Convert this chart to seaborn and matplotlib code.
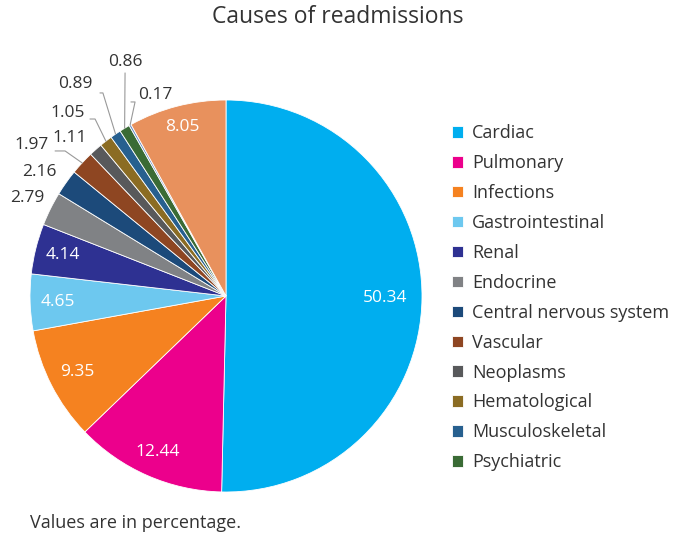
import numpy as np
import matplotlib
matplotlib.use("Agg")
import matplotlib.pyplot as plt
import seaborn as sns

# data (percent), clockwise from 12 o'clock
causes = ["Cardiac", "Pulmonary", "Infections", "Gastrointestinal", "Renal",
          "Endocrine", "Central nervous system", "Vascular", "Neoplasms",
          "Hematological", "Musculoskeletal", "Psychiatric", "", ""]
values = [50.34, 12.44, 9.35, 4.65, 4.14, 2.79, 2.16, 1.97, 1.11, 1.05,
          0.89, 0.86, 0.17, 8.05]
colors = ["#00AEEF", "#EC008C", "#F58220", "#6DC8EF", "#2E3192", "#808285",
          "#1C4A7A", "#8E4622", "#58595B", "#8B6C23", "#27608F", "#3A6B35",
          "#6A8FC8", "#E8915D"]
n_legend = 12

# label placement: inside (white) or outside (dark, some with leader line)
inside_r = {0: 0.81, 1: 0.87, 2: 0.85, 3: 0.86, 4: 0.86, 13: 0.89}
outside_pos = {5: (-1.015, 0.50), 6: (-0.95, 0.633), 7: (-0.99, 0.77),
               8: (-0.80, 0.806), 9: (-0.81, 0.934), 10: (-0.77, 1.082),
               11: (-0.515, 1.194), 12: (-0.36, 1.026)}
# leader line: start next to label, then kink, then to wedge edge
leader = {7: [(-0.872, 0.740), (-0.821, 0.740)],
          9: [(-0.694, 0.903), (-0.668, 0.903)],
          10: [(-0.643, 1.036), (-0.628, 1.036)],
          11: [(-0.515, 1.138), (-0.515, 1.138)],
          12: [(-0.485, 0.990), (-0.464, 0.990)]}

sns.set_theme(style="white")
plt.rcParams["font.family"] = ["Open Sans", "DejaVu Sans"]

W, H = 684, 538
fig = plt.figure(figsize=(W / 100, H / 100), dpi=100)
ax = fig.add_axes([30 / W, 46 / H, 392 / W, 392 / H])

wedges, _ = ax.pie(values, colors=colors, startangle=90, counterclock=False,
                   radius=1.0, wedgeprops=dict(linewidth=0.6, edgecolor="white"))
ax.set_xlim(-1, 1)
ax.set_ylim(-1, 1)
ax.set_aspect("equal")
ax.axis("off")

for i, w in enumerate(wedges):
    mid = np.deg2rad((w.theta1 + w.theta2) / 2)
    txt = f"{values[i]:.2f}"
    if i in inside_r:
        r = inside_r[i]
        ax.text(r * np.cos(mid), r * np.sin(mid), txt, color="white",
                fontsize=12.5, ha="center", va="center")
    else:
        x, y = outside_pos[i]
        if i in leader:
            pts = leader[i] + [(np.cos(mid), np.sin(mid))]
            ax.plot([p[0] for p in pts], [p[1] for p in pts],
                    color="#999999", lw=0.8, clip_on=False)
        ax.text(x, y, txt, color="#333333", fontsize=12.5, ha="center",
                va="center", clip_on=False)

fig.legend(handles=wedges[:n_legend], labels=causes[:n_legend],
           loc="upper left", bbox_to_anchor=(436 / W, 1 - 108 / H),
           frameon=False, fontsize=13, handlelength=0.6, handleheight=0.6,
           handletextpad=0.5, labelspacing=0.66, labelcolor="#333333")

fig.text(338 / W, 1 - 17 / H, "Causes of readmissions", ha="center",
         va="center", fontsize=16.5, color="#333333")
fig.text(30 / W, 1 - 523 / H, "Values are in percentage.", ha="left",
         va="center", fontsize=13, color="#333333")

fig.savefig("out.png", dpi=100)
